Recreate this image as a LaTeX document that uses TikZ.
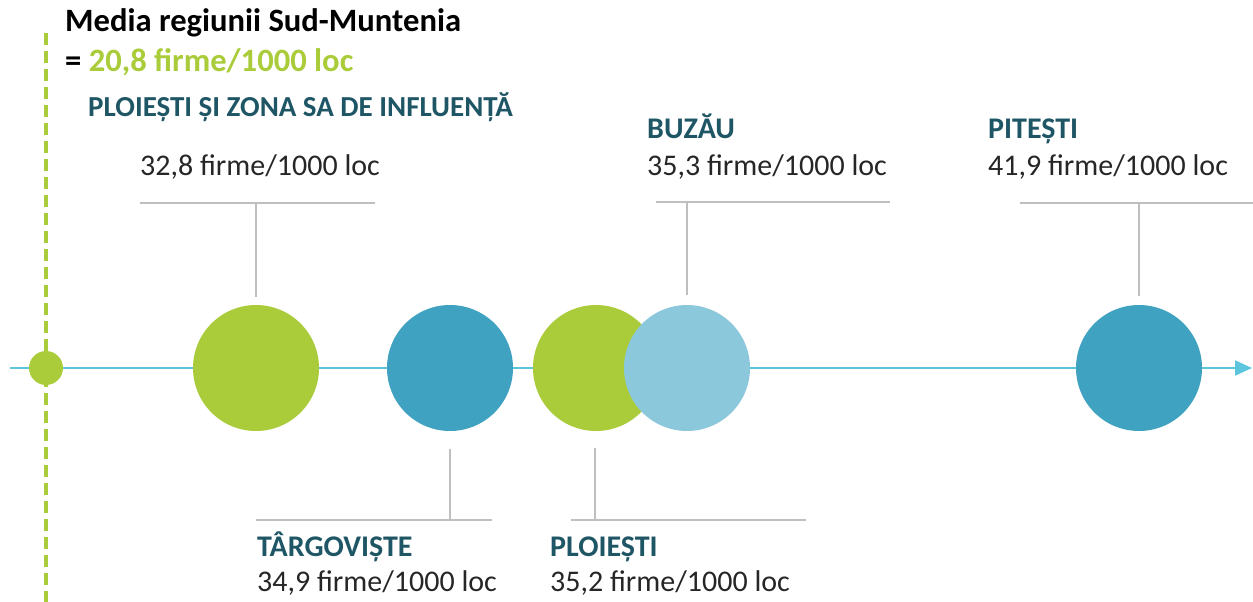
\documentclass[tikz,border=0pt]{standalone}
\usepackage{fontspec}
\setmainfont{Carlito}
\usetikzlibrary{arrows.meta}
\definecolor{cgreen}{HTML}{AACC3A}
\definecolor{cteal}{HTML}{3FA2C0}
\definecolor{clight}{HTML}{8CC8DB}
\definecolor{caxis}{HTML}{5BC5DE}
\definecolor{chead}{HTML}{1F5665}
\definecolor{cgray}{HTML}{BFBFBF}
\definecolor{ctext}{HTML}{262626}
\tikzset{
  dot/.style={circle,inner sep=0pt,minimum size=126pt},
  conn/.style={draw=cgray,line width=1.5pt},
  val/.style={anchor=base west,inner sep=0pt,text=ctext,font=\fontsize{30}{36}\selectfont},
  city/.style={anchor=base west,inner sep=0pt,text=chead,font=\fontsize{30}{36}\selectfont\bfseries},
}
\begin{document}
\begin{tikzpicture}[x=1pt,y=-1pt]
\useasboundingbox (0,0) rectangle (1253,602);
% axis
\coordinate (axs) at (10,368);
\coordinate (axe) at (1252,368);
\draw[caxis,line width=2pt,-{Triangle[length=17pt,width=15pt]}] (axs) -- (axe);
% dashed average line
\coordinate (dtop) at (46,33);
\coordinate (dbot) at (46,602);
\draw[cgreen,line width=3.5pt,dash pattern=on 12pt off 6pt] (dtop) -- (dbot);
\node[circle,fill=cgreen,inner sep=0pt,minimum size=34pt] (avg) at (46,368) {};
% circles
\node[dot,fill=cgreen] (c1) at (256,368) {};
\node[dot,fill=cteal] (c2) at (450,368) {};
\node[dot,fill=cgreen] (c3) at (596,368) {};
\node[dot,fill=clight] (c4) at (687,368) {};
\node[dot,fill=cteal] (c5) at (1139,368) {};
% connectors top
\coordinate (t1) at (256,203);
\coordinate (h1a) at (140,203); \coordinate (h1b) at (375,203);
\draw[conn] ([yshift=8pt]c1.north) -- (t1);
\draw[conn] (h1a) -- (h1b);
\coordinate (t4) at (687,202);
\coordinate (h4a) at (656,202); \coordinate (h4b) at (890,202);
\draw[conn] ([yshift=10pt]c4.north) -- (t4);
\draw[conn] (h4a) -- (h4b);
\coordinate (t5) at (1139,203);
\coordinate (h5a) at (1020,203); \coordinate (h5b) at (1253,203);
\draw[conn] ([yshift=9pt]c5.north) -- (t5);
\draw[conn] (h5a) -- (h5b);
% connectors bottom
\coordinate (b2) at (450,520);
\coordinate (h2a) at (256,520); \coordinate (h2b) at (492,520);
\draw[conn] ([yshift=-18pt]c2.south) -- (b2);
\draw[conn] (h2a) -- (h2b);
\coordinate (b3) at (595,520);
\coordinate (h3a) at (571,520); \coordinate (h3b) at (806,520);
\draw[conn] ([xshift=-1pt,yshift=-17pt]c3.south) -- (b3);
\draw[conn] (h3a) -- (h3b);
% texts
\node[anchor=base west,inner sep=0pt,font=\fontsize{32.6}{38}\selectfont\bfseries] (title) at (65,32) {Media regiunii Sud-Muntenia};
\node[anchor=base west,inner sep=0pt,font=\fontsize{32.6}{38}\selectfont\bfseries] (avgval) at (65,72) {= \textcolor{cgreen}{20,8 firme/1000 loc}};
\node[city,font=\fontsize{29}{35}\selectfont\bfseries] (zone) at (88,117) {PLOIEȘTI ȘI ZONA SA DE INFLUENȚĂ};
\node[val] (v1) at (140,175) {32,8 firme/1000 loc};
\node[city] (n4) at (647,138) {BUZĂU};
\node[val] (v4) at (647,175) {35,3 firme/1000 loc};
\node[city] (n5) at (988,138) {PITEȘTI};
\node[val] (v5) at (988,175) {41,9 firme/1000 loc};
\node[city] (n2) at (257,556) {TÂRGOVIȘTE};
\node[val] (v2) at (257,591) {34,9 firme/1000 loc};
\node[city] (n3) at (550,556) {PLOIEȘTI};
\node[val] (v3) at (550,591) {35,2 firme/1000 loc};
\end{tikzpicture}
\end{document}
